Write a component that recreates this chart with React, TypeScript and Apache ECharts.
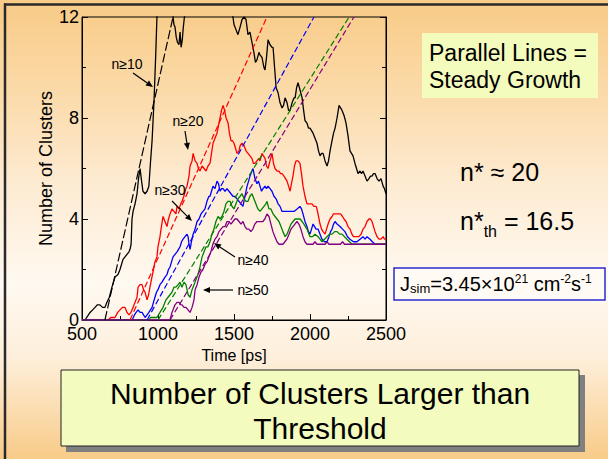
import React, { useEffect, useRef } from 'react';
import * as echarts from 'echarts';

const FONT = '"Liberation Sans", Arial, Helvetica, sans-serif';

// axis ranges / ticks
const xRange = [500, 2500];
const xStep = 500;
const yRange = [0, 12];
const yStep = 4;

// n>=10 (black)
const n10: [number, number][] = [
  [500, 0], [520, 0], [553, 0.3], [570, 0.4], [586, 0.5], [600, 0.6], [618, 0.6], [635, 0.5], [651, 0.5],
  [664, 0.7], [680, 0.9], [697, 1.3], [717, 1.7], [737, 1.8], [750, 2.0], [770, 2.4], [783, 2.5], [796, 2.6],
  [809, 2.7], [816, 2.8], [823, 3.0], [829, 4.0], [836, 4.3], [849, 4.6], [862, 5.0], [872, 5.6], [882, 6.0],
  [892, 5.5], [901, 5.1], [915, 5.0], [928, 5.1], [940, 5.3], [950, 6.2], [961, 7.1], [974, 8.7], [985, 10.5],
  [993, 12], [1000, 13], [1090, 13], [1099, 12], [1105, 11.7], [1112, 11.6], [1120, 11.2], [1128, 11.0],
  [1138, 10.9], [1145, 11.4], [1152, 10.8], [1160, 11.1], [1165, 11.5], [1172, 11.9], [1178, 12.2], [1190, 13],
  [1485, 13], [1493, 12], [1500, 11.7], [1513, 11.5], [1526, 11.3], [1540, 11.6], [1553, 11.9], [1566, 12],
  [1579, 11.9], [1592, 11.3], [1605, 11.4], [1618, 11.0], [1631, 10.6], [1641, 10.2], [1651, 10.3], [1664, 10.6],
  [1671, 10.5], [1684, 10.4], [1697, 10.0], [1704, 9.9], [1714, 10.4], [1724, 11.1], [1737, 10.9], [1750, 10.8],
  [1757, 10.8], [1767, 10.0], [1777, 9.2], [1790, 9.0], [1803, 8.6], [1816, 8.4], [1826, 8.5], [1836, 8.8],
  [1849, 8.6], [1859, 8.3], [1869, 8.3], [1882, 8.6], [1895, 8.8], [1902, 8.8], [1912, 9.2], [1921, 9.4],
  [1935, 9.1], [1948, 8.8], [1958, 8.3], [1967, 7.9], [1980, 7.8], [1990, 7.6], [2000, 7.6], [2010, 7.5],
  [2020, 7.4], [2033, 7.2], [2046, 7.0], [2056, 6.7], [2066, 6.5], [2076, 6.6], [2086, 6.6], [2099, 6.3],
  [2112, 6.1], [2122, 6.3], [2132, 6.7], [2145, 7.1], [2155, 7.4], [2165, 7.6], [2178, 8.0], [2191, 8.5],
  [2201, 8.4], [2211, 8.3], [2224, 8.1], [2237, 7.8], [2250, 7.3], [2263, 6.7], [2273, 6.6], [2283, 6.5],
  [2296, 6.2], [2306, 6.0], [2316, 5.8], [2329, 5.9], [2339, 5.8], [2349, 5.9], [2362, 5.7], [2375, 5.5],
  [2388, 5.6], [2398, 5.7], [2408, 5.7], [2418, 5.8], [2428, 5.8], [2441, 5.6], [2454, 5.5], [2467, 5.6],
  [2481, 5.3], [2490, 5.2], [2500, 5.0],
];

// n>=20 (red)
const n20: [number, number][] = [
  [500, 0], [671, 0], [690, 0.1], [717, 0.1], [735, 0.3], [750, 0.4], [766, 0.5], [783, 0.5], [796, 0.3],
  [809, 0.2], [822, 0.3], [836, 0.5], [849, 0.7], [862, 0.9], [869, 1.3], [882, 1.4], [895, 1.4], [905, 1.2],
  [915, 1.1], [928, 0.8], [938, 1.0], [947, 1.3], [957, 1.6], [967, 1.9], [980, 2.3], [993, 2.5], [1000, 2.9],
  [1013, 3.3], [1020, 3.6], [1033, 4.1], [1046, 3.9], [1059, 3.7], [1069, 4.0], [1079, 4.2], [1092, 4.4],
  [1105, 4.3], [1118, 4.2], [1125, 4.5], [1138, 4.4], [1150, 4.6], [1158, 4.7], [1170, 4.9], [1183, 5.2],
  [1191, 5.3], [1204, 5.7], [1211, 6.1], [1224, 6.3], [1231, 6.6], [1244, 6.3], [1257, 6.2], [1266, 6.0],
  [1276, 5.9], [1290, 6.1], [1303, 6.0], [1316, 5.9], [1329, 6.1], [1342, 6.2], [1352, 6.6], [1362, 7.0],
  [1375, 7.2], [1388, 7.4], [1398, 7.7], [1408, 8.0], [1418, 8.3], [1428, 8.5], [1438, 8.3], [1448, 8.0],
  [1461, 7.8], [1470, 7.4], [1480, 7.1], [1490, 7.1], [1500, 7.0], [1510, 6.8], [1520, 6.6], [1533, 6.7],
  [1540, 6.9], [1553, 7.0], [1566, 6.9], [1579, 6.7], [1592, 6.6], [1605, 6.5], [1618, 6.4], [1628, 6.2],
  [1638, 6.2], [1651, 6.3], [1664, 6.4], [1671, 6.3], [1684, 6.6], [1694, 6.5], [1704, 6.4], [1714, 6.1],
  [1724, 6.0], [1737, 6.3], [1750, 6.6], [1760, 6.2], [1770, 6.0], [1783, 5.9], [1796, 5.9], [1806, 5.8],
  [1816, 5.8], [1829, 5.7], [1839, 5.6], [1849, 5.5], [1859, 5.3], [1869, 5.1], [1878, 5.4], [1888, 5.7],
  [1898, 6.1], [1908, 6.3], [1921, 6.3], [1934, 6.2], [1944, 5.8], [1954, 5.3], [1967, 4.9], [1980, 4.6],
  [1990, 4.6], [2000, 4.6], [2013, 4.6], [2026, 4.5], [2040, 4.5], [2046, 4.4], [2056, 4.1], [2066, 3.8],
  [2076, 3.6], [2086, 3.5], [2099, 3.4], [2109, 3.6], [2119, 3.8], [2132, 4.0], [2145, 4.1], [2155, 4.2],
  [2165, 4.2], [2178, 4.2], [2191, 4.2], [2201, 4.2], [2214, 4.1], [2224, 4.0], [2237, 3.9], [2250, 3.7],
  [2263, 3.6], [2276, 3.4], [2286, 3.3], [2296, 3.3], [2309, 3.3], [2322, 3.3], [2336, 3.4], [2349, 3.6],
  [2362, 3.7], [2375, 3.9], [2388, 4.0], [2398, 4.0], [2408, 3.9], [2418, 3.7], [2428, 3.5], [2441, 3.3],
  [2454, 3.2], [2467, 3.2], [2481, 3.3], [2490, 3.2], [2500, 3.2],
];

// n>=30 (blue)
const n30: [number, number][] = [
  [500, 0], [830, 0], [845, 0.2], [856, 0.3], [869, 0.4], [882, 0.3], [895, 0.3], [905, 0.2], [915, 0.1],
  [928, 0.2], [940, 0.3], [950, 0.4], [961, 0.5], [970, 0.7], [980, 0.9], [990, 1.1], [1000, 1.2], [1013, 1.4],
  [1026, 1.5], [1036, 1.6], [1046, 1.7], [1059, 1.8], [1069, 2.0], [1079, 2.1], [1089, 2.3], [1099, 2.5],
  [1112, 2.6], [1125, 2.7], [1135, 2.8], [1145, 2.9], [1155, 3.1], [1165, 3.2], [1178, 3.3], [1191, 3.4],
  [1198, 3.3], [1204, 3.0], [1211, 2.8], [1220, 3.1], [1231, 3.4], [1244, 3.6], [1257, 3.9], [1270, 4.0],
  [1283, 4.2], [1296, 4.3], [1309, 4.4], [1322, 4.7], [1335, 4.9], [1342, 4.9], [1352, 5.1], [1362, 5.3],
  [1375, 5.2], [1388, 5.5], [1398, 5.4], [1408, 5.1], [1418, 5.2], [1428, 5.2], [1441, 5.1], [1454, 5.2],
  [1467, 5.1], [1480, 5.0], [1493, 4.9], [1506, 4.9], [1520, 4.8], [1533, 4.7], [1546, 4.6], [1559, 4.5],
  [1572, 4.9], [1586, 5.3], [1596, 5.5], [1605, 5.7], [1618, 5.9], [1625, 6.0], [1638, 5.6], [1651, 5.4],
  [1661, 5.5], [1671, 5.3], [1681, 5.1], [1691, 5.2], [1704, 5.3], [1714, 5.2], [1724, 5.3], [1737, 5.2],
  [1750, 5.1], [1763, 4.9], [1777, 4.8], [1790, 4.6], [1803, 4.5], [1816, 4.3], [1829, 4.3], [1842, 4.3],
  [1855, 4.3], [1869, 4.3], [1882, 4.3], [1895, 4.3], [1915, 4.4], [1934, 4.5], [1944, 4.4], [1954, 4.2],
  [1967, 3.9], [1980, 3.7], [1990, 3.5], [2000, 3.4], [2010, 3.6], [2020, 3.8], [2030, 3.7], [2040, 3.6],
  [2053, 3.6], [2066, 3.4], [2079, 3.2], [2095, 3.1], [2112, 3.1], [2125, 3.3], [2135, 3.5], [2145, 3.6],
  [2155, 3.8], [2165, 3.9], [2178, 3.8], [2198, 3.7], [2214, 3.6], [2230, 3.5], [2247, 3.3], [2263, 3.2],
  [2286, 3.1], [2309, 3.1], [2329, 3.2], [2349, 3.3], [2362, 3.2], [2375, 3.3], [2395, 3.2], [2410, 3.1],
  [2428, 3.0], [2460, 3.0], [2500, 3.0],
];

// n>=40 (green)
const n40: [number, number][] = [
  [500, 0], [940, 0], [950, 0.1], [975, 0.1], [993, 0.1], [1013, 0.3], [1033, 0.5], [1046, 0.7], [1053, 0.8],
  [1066, 0.9], [1079, 1.0], [1092, 1.1], [1105, 1.3], [1118, 1.3], [1132, 1.4], [1145, 1.5], [1158, 1.3],
  [1171, 1.5], [1184, 1.4], [1191, 1.2], [1198, 1.0], [1211, 0.9], [1224, 1.2], [1237, 1.4], [1250, 1.6],
  [1263, 1.8], [1276, 2.1], [1290, 2.5], [1303, 2.7], [1316, 2.9], [1329, 2.9], [1342, 3.1], [1355, 3.4],
  [1368, 3.6], [1381, 3.9], [1395, 4.1], [1408, 4.0], [1421, 4.1], [1434, 4.3], [1447, 4.6], [1460, 4.7],
  [1474, 4.7], [1487, 4.5], [1500, 4.4], [1513, 4.6], [1526, 4.8], [1540, 4.9], [1553, 5.0], [1566, 4.8],
  [1579, 4.7], [1592, 4.7], [1605, 4.9], [1618, 5.0], [1631, 4.8], [1644, 4.6], [1657, 4.4], [1671, 4.3],
  [1684, 4.4], [1697, 4.5], [1710, 4.6], [1717, 4.7], [1730, 4.4], [1743, 4.4], [1757, 4.2], [1770, 4.1],
  [1783, 4.0], [1796, 3.9], [1809, 3.7], [1822, 3.5], [1836, 3.3], [1849, 3.4], [1862, 3.6], [1875, 3.8],
  [1888, 3.9], [1902, 4.0], [1915, 4.0], [1935, 4.0], [1948, 3.9], [1960, 3.8], [1980, 3.6], [2000, 3.3],
  [2016, 3.3], [2033, 3.4], [2053, 3.3], [2066, 3.2], [2079, 3.1], [2095, 3.2], [2112, 3.3], [2128, 3.4],
  [2145, 3.4], [2162, 3.5], [2178, 3.5], [2195, 3.4], [2211, 3.4], [2227, 3.3], [2243, 3.2], [2260, 3.1],
  [2276, 3.0], [2500, 3.0],
];

// n>=50 (purple)
const n50: [number, number][] = [
  [500, 0], [1079, 0], [1092, 0.3], [1105, 0.5], [1112, 0.6], [1125, 0.7], [1138, 0.7], [1151, 0.6],
  [1158, 0.6], [1171, 0.5], [1184, 0.5], [1198, 0.4], [1211, 0.3], [1224, 0.5], [1237, 0.8], [1244, 1.2],
  [1257, 1.4], [1270, 1.7], [1283, 1.9], [1296, 2.0], [1309, 2.2], [1322, 2.3], [1335, 2.5], [1348, 2.7],
  [1361, 3.0], [1375, 3.2], [1388, 3.3], [1401, 3.5], [1414, 3.6], [1428, 3.7], [1441, 3.7], [1454, 3.9],
  [1467, 3.9], [1480, 3.8], [1493, 3.9], [1506, 4.0], [1520, 4.0], [1533, 3.9], [1546, 3.8], [1559, 3.9],
  [1572, 3.7], [1585, 3.6], [1598, 3.6], [1611, 3.5], [1624, 3.6], [1637, 3.8], [1651, 3.9], [1664, 3.9],
  [1677, 3.9], [1690, 3.9], [1703, 4.0], [1717, 4.2], [1730, 4.1], [1743, 3.8], [1756, 3.5], [1769, 3.3],
  [1783, 3.1], [1796, 3.0], [1809, 3.0], [1822, 3.0], [1835, 3.1], [1848, 3.2], [1862, 3.4], [1875, 3.6],
  [1888, 3.7], [1901, 3.8], [1914, 3.9], [1927, 3.8], [1940, 3.6], [1954, 3.3], [1967, 3.1], [1980, 3.0],
  [2020, 3.0], [2033, 3.1], [2046, 3.0], [2099, 3.0], [2112, 3.1], [2125, 3.0], [2200, 3.0], [2214, 3.1],
  [2227, 3.0], [2500, 3.0],
];

// linear growth fits (start of growth at 0, reaching 12)
const fit10: [number, number][] = [[651, 0], [1099, 12]];
const fit20: [number, number][] = [[816, 0], [1717, 12]];
const fit30: [number, number][] = [[928, 0], [2026, 12]];
const fit40: [number, number][] = [[1000, 0], [2257, 12]];
const fit50: [number, number][] = [[1079, 0], [2289, 12]];

const labels = ['n\u226510', 'n\u226520', 'n\u226530', 'n\u226540', 'n\u226550'];

function arrow(x1: number, y1: number, x2: number, y2: number) {
  const dx = x2 - x1;
  const dy = y2 - y1;
  const L = Math.sqrt(dx * dx + dy * dy);
  const ux = dx / L;
  const uy = dy / L;
  const hl = 7;
  const hw = 3;
  const bx = x2 - ux * hl;
  const by = y2 - uy * hl;
  return [
    {
      type: 'line',
      shape: { x1, y1, x2: bx, y2: by },
      style: { stroke: '#000', lineWidth: 1.2 },
      z: 20,
    },
    {
      type: 'polygon',
      shape: {
        points: [
          [x2, y2],
          [bx - uy * hw, by + ux * hw],
          [bx + uy * hw, by - ux * hw],
        ],
      },
      style: { fill: '#000' },
      z: 20,
    },
  ];
}

function label(text: string, x: number, y: number) {
  return {
    type: 'text',
    x,
    y,
    z: 20,
    style: {
      text,
      fontSize: 14,
      fontFamily: FONT,
      fill: '#000',
      align: 'center',
      verticalAlign: 'middle',
    },
  };
}

export default function App() {
  const ref = useRef<HTMLDivElement>(null);

  useEffect(() => {
    if (!ref.current) return;
    const chart = echarts.init(ref.current, null, { renderer: 'svg' });

    const solid = (name: string, data: [number, number][], color: string) => ({
      type: 'line',
      name,
      data,
      symbol: 'none',
      showSymbol: false,
      lineStyle: { color, width: 1.3 },
      itemStyle: { color },
      silent: true,
      z: 3,
    });
    const dashed = (data: [number, number][], color: string, dash: number[]) => ({
      type: 'line',
      data,
      symbol: 'none',
      showSymbol: false,
      lineStyle: { color, width: 1.2, type: dash },
      itemStyle: { color },
      silent: true,
      z: 4,
    });

    const tickStyle = { color: '#000', width: 1 };

    const option: any = {
      animation: false,
      grid: {
        left: 82,
        top: 17,
        width: 304,
        height: 303,
        show: true,
        borderColor: '#000',
        borderWidth: 1,
        backgroundColor: 'transparent',
      },
      xAxis: {
        type: 'value',
        min: xRange[0],
        max: xRange[1],
        interval: xStep,
        name: 'Time [ps]',
        nameLocation: 'middle',
        nameGap: 26,
        nameTextStyle: { fontSize: 16, color: '#000', fontFamily: FONT },
        axisLine: { show: true, lineStyle: tickStyle },
        axisTick: { show: true, inside: true, length: 6, lineStyle: tickStyle },
        minorTick: { show: true, splitNumber: 2, length: 4, lineStyle: tickStyle },
        splitLine: { show: false },
        minorSplitLine: { show: false },
        axisLabel: {
          color: '#000',
          fontSize: 18,
          fontFamily: FONT,
          margin: 5,
          formatter: (v: number) => String(v),
        },
      },
      yAxis: [
        {
          type: 'value',
          min: yRange[0],
          max: yRange[1],
          interval: yStep,
          name: 'Number of Clusters',
          nameLocation: 'middle',
          nameGap: 26,
          nameRotate: 90,
          nameTextStyle: { fontSize: 18, color: '#000', fontFamily: FONT },
          axisLine: { show: true, lineStyle: tickStyle },
          axisTick: { show: true, inside: true, length: 6, lineStyle: tickStyle },
          minorTick: { show: true, splitNumber: 2, length: 4, lineStyle: tickStyle },
          splitLine: { show: false },
          minorSplitLine: { show: false },
          axisLabel: {
            color: '#000',
            fontSize: 18,
            fontFamily: FONT,
            margin: 3,
            formatter: (v: number) => String(v),
          },
        },
        {
          type: 'value',
          position: 'right',
          min: yRange[0],
          max: yRange[1],
          interval: yStep,
          axisLine: { show: true, lineStyle: tickStyle },
          axisTick: { show: true, inside: true, length: 6, lineStyle: tickStyle },
          minorTick: { show: true, splitNumber: 2, length: 4, lineStyle: tickStyle },
          splitLine: { show: false },
          minorSplitLine: { show: false },
          axisLabel: { show: false },
        },
      ],
      series: [
        solid(labels[0], n10, '#000000'),
        solid(labels[1], n20, '#ff0000'),
        solid(labels[2], n30, '#0000ff'),
        solid(labels[3], n40, '#008000'),
        solid(labels[4], n50, '#800080'),
        dashed(fit10, '#000000', [9, 3]),
        dashed(fit20, '#ff0000', [6, 3]),
        dashed(fit30, '#0000ff', [6, 3]),
        dashed(fit40, '#008000', [6, 3]),
        dashed(fit50, '#800080', [6, 3]),
      ],
      graphic: [
        // slide frame lines
        { type: 'line', shape: { x1: 4, y1: 4.5, x2: 608, y2: 4.5 }, style: { stroke: '#2a2a2a', lineWidth: 2.5 }, z: 30 },
        { type: 'line', shape: { x1: 5, y1: 3.5, x2: 5, y2: 459 }, style: { stroke: '#2a2a2a', lineWidth: 2.5 }, z: 30 },

        // curve labels and arrows
        label(labels[0], 127, 64),
        ...arrow(133, 73, 153, 87),
        label(labels[1], 188, 121),
        ...arrow(185, 131, 188, 150),
        label(labels[2], 170, 190),
        ...arrow(172, 201, 192, 221),
        label(labels[3], 253, 260),
        ...arrow(235, 257, 214, 243),
        label(labels[4], 253, 290),
        ...arrow(233, 290, 203, 290),

        // Parallel lines box
        { type: 'rect', shape: { x: 422, y: 33, width: 176, height: 65 }, style: { fill: '#f3fbbd' }, z: 10 },
        {
          type: 'text',
          x: 429,
          y: 39.5,
          z: 11,
          style: {
            text: 'Parallel Lines =\nSteady Growth',
            fontSize: 23,
            lineHeight: 27,
            fontFamily: FONT,
            fill: '#000',
            align: 'left',
            verticalAlign: 'top',
          },
        },

        // n* texts
        {
          type: 'text',
          x: 460,
          y: 172,
          z: 11,
          style: {
            text: 'n* \u2248 20',
            fontSize: 25,
            fontFamily: FONT,
            fill: '#000',
            align: 'left',
            verticalAlign: 'middle',
          },
        },
        {
          type: 'text',
          x: 460,
          y: 208,
          z: 11,
          style: {
            text: '{a|n*}{b|th}{a| = 16.5}',
            fontFamily: FONT,
            fill: '#000',
            align: 'left',
            verticalAlign: 'top',
            rich: {
              a: { fontSize: 25, lineHeight: 26, verticalAlign: 'top', fontFamily: FONT, fill: '#000' },
              b: { fontSize: 16, lineHeight: 46, verticalAlign: 'middle', fontFamily: FONT, fill: '#000' },
            },
          },
        },

        // J_sim box
        {
          type: 'rect',
          shape: { x: 394, y: 268, width: 211, height: 32 },
          style: { fill: '#fffaf3', stroke: '#2a2ad0', lineWidth: 1.5 },
          z: 10,
        },
        {
          type: 'text',
          x: 400,
          y: 273,
          z: 11,
          style: {
            text: '{a|J}{s|sim}{a|=3.45\u00d710}{p|21}{a| cm}{p|-2}{a|s}{p|-1}',
            fontFamily: FONT,
            fill: '#000',
            align: 'left',
            verticalAlign: 'top',
            rich: {
              a: { fontSize: 20, lineHeight: 22, verticalAlign: 'middle', fontFamily: FONT, fill: '#000' },
              p: { fontSize: 12, lineHeight: 12, verticalAlign: 'top', fontFamily: FONT, fill: '#000' },
              s: { fontSize: 13, lineHeight: 12, verticalAlign: 'bottom', fontFamily: FONT, fill: '#000' },
            },
          },
        },

        // bottom title box
        { type: 'rect', shape: { x: 66, y: 375, width: 519, height: 77 }, style: { fill: '#808080' }, z: 10 },
        {
          type: 'rect',
          shape: { x: 61, y: 370, width: 518, height: 76 },
          style: { fill: '#f3fbbf', stroke: '#222', lineWidth: 1 },
          z: 11,
        },
        {
          type: 'text',
          x: 320,
          y: 375.5,
          z: 12,
          style: {
            text: 'Number of Clusters Larger than\nThreshold',
            fontSize: 30,
            lineHeight: 35,
            fontFamily: FONT,
            fill: '#000',
            align: 'center',
            verticalAlign: 'top',
          },
        },
      ],
    };

    chart.setOption(option);
    return () => {
      chart.dispose();
    };
  }, []);

  return (
    <div
      style={{
        position: 'fixed',
        left: 0,
        top: 0,
        width: 608,
        height: 459,
        background:
          'linear-gradient(to bottom, #f8cb86 0%, #fbdaa9 20%, #fdebd2 40%, #fff9f1 62%, #feefdb 78%, #f8cb88 100%)',
      }}
    >
      <div ref={ref} style={{ width: 608, height: 459 }} />
    </div>
  );
}
